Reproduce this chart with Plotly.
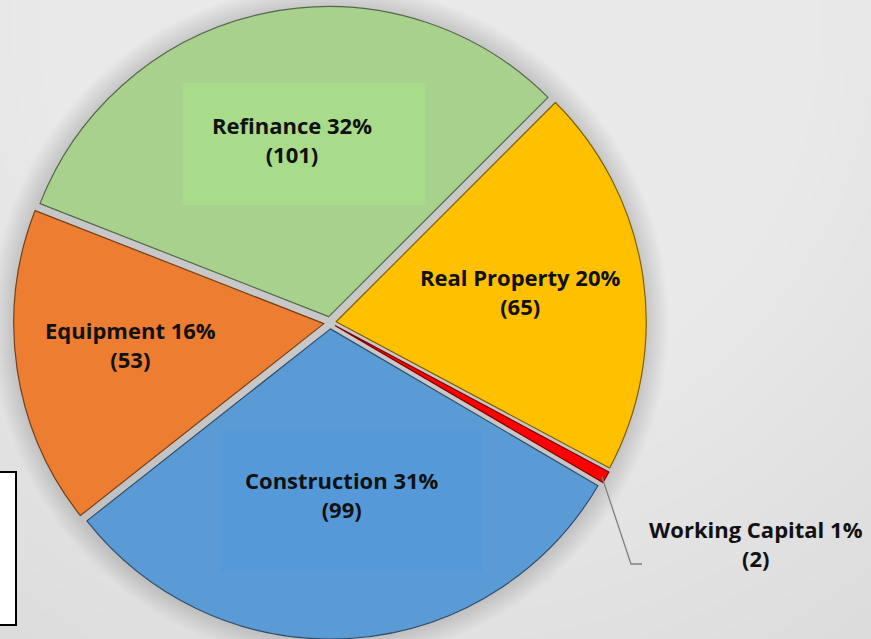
import numpy as np
import plotly.graph_objects as go

# ─── Data ────────────────────────────────────────────────────────────────────
categories = ["Real Property", "Working Capital", "Construction", "Equipment", "Refinance"]
counts     = [65, 2, 99, 53, 101]
pct_labels = [20, 1, 31, 16, 32]

# ─── Style ───────────────────────────────────────────────────────────────────
COLORS = ["#FFC000", "#FF0000", "#5B9BD5", "#ED7D31", "#A9D18E"]
EDGES  = ["#7F6000", "#7F0000", "#2E4E6B", "#764018", "#55694A"]
FONT   = "Open Sans, Arial, sans-serif"
W, H   = 871, 639

# pie geometry in pixels (centre and domain)
CX, CY = 330, 322.7
DOM_H  = 0.99 * H
ROT    = 45
PULL   = 0.02


def px(x, y):
    return x / W, 1 - y / H


fig = go.Figure()

fig.add_trace(go.Pie(
    labels=categories, values=counts,
    sort=False, direction="clockwise", rotation=ROT,
    pull=PULL, textinfo="none", hoverinfo="label+value+percent",
    marker=dict(colors=COLORS, line=dict(color=EDGES, width=1.2)),
    domain=dict(x=[(CX - DOM_H / 2) / W, (CX + DOM_H / 2) / W], y=[0, 0.99]),
    showlegend=False,
))

# ─── Background: soft radial light + shadow under the pie ────────────────────
shapes = []
for i in range(30):
    r = 950 - i * 28
    x0, y0 = px(430 - r, 30 - r)
    x1, y1 = px(430 + r, 30 + r)
    shapes.append(dict(type="circle", xref="paper", yref="paper", layer="below",
                       x0=x0, y0=y1, x1=x1, y1=y0,
                       fillcolor="rgba(255,255,255,0.045)", line_width=0))

r_pie = DOM_H / (2 + 2 * PULL)
for extra in range(22, 0, -2):
    rr = r_pie * (1 + PULL) + extra
    x0, y0 = px(CX - rr, CY - rr)
    x1, y1 = px(CX + rr, CY + rr)
    shapes.append(dict(type="circle", xref="paper", yref="paper", layer="below",
                       x0=x0, y0=y1, x1=x1, y1=y0,
                       fillcolor="rgba(0,0,0,0.012)", line_width=0))

# label boxes behind two of the labels
for (bx0, by0, bx1, by1), col in [((183, 83, 425, 205), "#A8DC8A"),
                                  ((220, 430, 483, 572), "rgba(80,150,220,0.45)")]:
    x0, y0 = px(bx0, by0)
    x1, y1 = px(bx1, by1)
    shapes.append(dict(type="rect", xref="paper", yref="paper", layer="above",
                       x0=x0, y0=y1, x1=x1, y1=y0, fillcolor=col, line_width=0))

# stray text box on the left edge
x0, y0 = px(-10, 472)
x1, y1 = px(16, 625)
shapes.append(dict(type="rect", xref="paper", yref="paper", layer="above",
                   x0=x0, y0=y1, x1=x1, y1=y0, fillcolor="white",
                   line=dict(color="black", width=2)))

# leader line for the tiny slice
pts = [px(602, 477), px(631, 564), px(642, 564)]
path = "M {} {} L {} {} L {} {}".format(*[v for p in pts for v in p])
shapes.append(dict(type="path", xref="paper", yref="paper", path=path,
                   line=dict(color="#808080", width=1.3)))

# ─── Labels: placed along each slice's mid-angle, with small nudges ──────────
values = np.array(counts, dtype=float)
ends = np.cumsum(values) / values.sum() * 360
mids = ROT + ends - values / values.sum() * 180
radial = {"Real Property": 0.62, "Construction": 0.56, "Equipment": 0.645, "Refinance": 0.6}
nudge  = {"Real Property": (0, -3), "Construction": (0, -1), "Equipment": (-2, -8), "Refinance": (0, -1)}

annotations = []
for name, n, p, ang in zip(categories, counts, pct_labels, mids):
    text = f"<b>{name} {p}%<br>({n})</b>"
    if name in radial:
        rr = radial[name] * r_pie
        dx, dy = nudge[name]
        lx = CX + rr * np.sin(np.radians(ang)) + dx
        ly = CY - rr * np.cos(np.radians(ang)) + dy
    else:
        lx, ly = 756, 543
    ax, ay = px(lx, ly)
    annotations.append(dict(x=ax, y=ay, xref="paper", yref="paper", text=text,
                            xanchor="center", yanchor="middle",
                            showarrow=False, align="center",
                            font=dict(family=FONT, size=22, color="#111111")))

fig.update_layout(
    width=W, height=H,
    margin=dict(l=0, r=0, t=0, b=0),
    paper_bgcolor="#D4D4D4",
    plot_bgcolor="#D4D4D4",
    shapes=shapes,
    annotations=annotations,
)

fig.write_html("out.html", config={"displayModeBar": False},
               post_script="document.body.style.margin='0';")
